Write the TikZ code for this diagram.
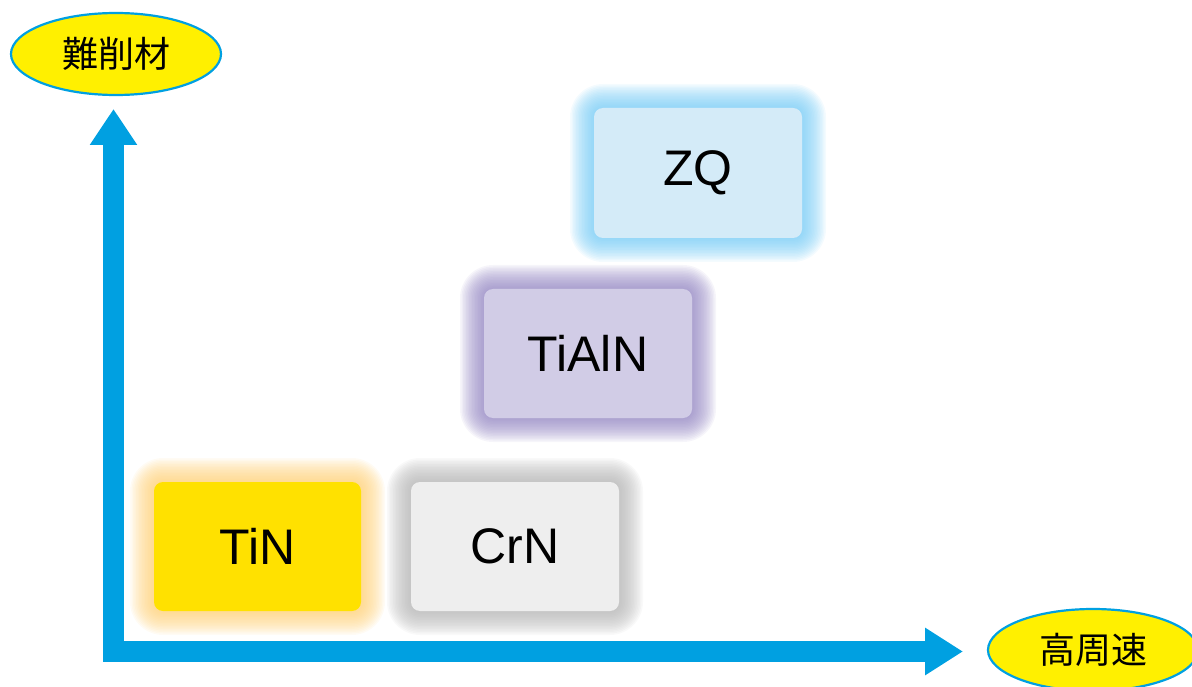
\documentclass[tikz,border=0pt]{standalone}
\usepackage{fontspec}
\setmainfont{Liberation Sans}
\newfontfamily\cjk{Noto Sans CJK JP}
\usetikzlibrary{shapes.geometric,arrows.meta}
\definecolor{axisblue}{RGB}{0,160,225}
\definecolor{ellyellow}{RGB}{255,240,0}
\definecolor{zqfill}{RGB}{212,235,248}
\definecolor{zqglow}{RGB}{110,200,245}
\definecolor{tafill}{RGB}{209,204,230}
\definecolor{taglow}{RGB}{140,126,190}
\definecolor{tinfill}{RGB}{255,225,0}
\definecolor{tinglow}{RGB}{255,205,110}
\definecolor{crfill}{RGB}{238,238,238}
\definecolor{crglow}{RGB}{175,175,175}
\tikzset{
  axislabel/.style={ellipse,draw=axisblue,line width=2.2pt,fill=ellyellow,minimum width=210pt,minimum height=82pt,inner sep=0pt,font=\cjk\fontsize{36}{36}\selectfont},
  coatbox/.style={rounded corners=9pt,font=\fontsize{50}{50}\selectfont},
}
\newcommand{\glowbox}[8]{%
  % #1 name, #2 x1, #3 y1, #4 x2, #5 y2, #6 fill, #7 glow, #8 text
  \foreach \g in {24,22.5,...,1.5}{
    \fill[#7,fill opacity=0.075,rounded corners=9pt+\g pt] (#2-\g,#3-\g) rectangle (#4+\g,#5+\g);
  }
  \fill[#6,rounded corners=9pt] (#2,#3) rectangle (#4,#5);
  \node[coatbox] (#1) at ({(#2+#4)/2},{(#3+#5)/2}) {#8};
}
\begin{document}
\begin{tikzpicture}[x=1pt,y=-1pt]
\useasboundingbox (0,0) rectangle (1192,687);
\glowbox{zq}{594}{108}{802}{238}{zqfill}{zqglow}{ZQ}
\glowbox{tialn}{484}{289}{692}{418}{tafill}{taglow}{TiAlN}
\glowbox{tin}{154}{482}{361}{611}{tinfill}{tinglow}{TiN}
\glowbox{crn}{411}{482}{619}{611}{crfill}{crglow}{CrN}
\coordinate (ytip) at (113.5,109);
\coordinate (corner) at (113.5,651.5);
\coordinate (xtip) at (963,651.5);
\draw[axisblue,line width=21pt,line join=miter,line cap=butt,
  {Triangle[length=36pt,width=45pt]}-{Triangle[length=38pt,width=45pt]}]
  (ytip) -- (corner) -- (xtip);
\node[axislabel] (hard) at (116,54) {難削材};
\node[axislabel] (fast) at (1093,650) {高周速};
\end{tikzpicture}
\end{document}
